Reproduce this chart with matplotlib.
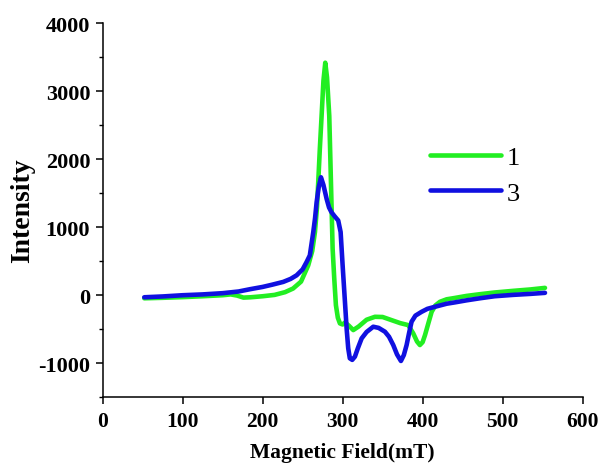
import matplotlib
matplotlib.use("Agg")
import matplotlib.pyplot as plt
from matplotlib.ticker import MultipleLocator

# EPR spectra, sample 1 and sample 3
field_1 = [52, 75, 100, 125, 150, 160, 168, 176, 185, 200, 215, 228, 238, 248, 257, 262, 265.4,
           268, 269.5, 271.5, 273.7, 276, 278.3, 280.5, 283.3, 285.4, 287.5, 289.5, 291.6,
           294, 296.6, 300, 303, 308, 313.3, 320, 330, 340.4, 350, 361.2, 372, 382, 388.3,
           393, 396.6, 400, 403, 407, 411.3, 416, 421.6, 430, 440.4, 455, 471.6, 490, 513,
           535, 553]
intensity_1 = [-45, -38, -28, -15, 0, 12, -5, -35, -30, -15, 5, 45, 98, 200, 439, 650, 928,
               1300, 1660, 2150, 2635, 3150, 3417, 3200, 2635, 1660, 684, 250, -146,
               -330, -414, -430, -400, -450, -512, -460, -360, -317, -320, -366, -410, -439,
               -561, -680, -732, -690, -586, -420, -244, -150, -97, -60, -40, -10, 15, 40, 64,
               85, 108]

field_3 = [52, 75, 100, 125, 150, 170, 184, 200, 212, 225.8, 235, 242.5, 250, 255, 259,
           263.3, 265.5, 267.5, 270, 272.9, 276, 280, 283, 286, 290, 294.5, 297.5, 300,
           302.9, 305, 307, 309, 312, 315.4, 319, 323.8, 330, 338.3, 345, 352.9, 358,
           363.3, 368, 372.9, 376.5, 380, 383, 386.2, 391, 398.7, 406, 415.4, 430, 440.4,
           455, 471.6, 490, 513, 535, 553]
intensity_3 = [-30, -18, 0, 12, 30, 55, 88, 122, 155, 196, 240, 293, 380, 489, 586, 928,
               1130, 1367, 1580, 1733, 1620, 1416, 1290, 1221, 1160, 1098, 928, 439,
               -97, -488, -780, -927, -950, -902, -780, -634, -540, -463, -480, -536, -610,
               -732, -870, -966, -880, -732, -560, -390, -300, -244, -200, -170, -125, -105,
               -75, -45, -15, 5, 20, 35]

series_labels = ["1", "3"]
series_colors = ["#22ee22", "#1010e0"]

plt.rcParams["font.family"] = ["Liberation Serif", "DejaVu Serif"]
plt.rcParams["axes.unicode_minus"] = False

fig = plt.figure(figsize=(5.98, 4.64), dpi=100)
ax = fig.add_axes([0.1717, 0.1416, 0.8025, 0.8066])

ax.plot(field_1, intensity_1, color=series_colors[0], lw=3.3, label=series_labels[0],
        solid_joinstyle="round", solid_capstyle="round")
ax.plot(field_3, intensity_3, color=series_colors[1], lw=3.3, label=series_labels[1],
        solid_joinstyle="round", solid_capstyle="round")

ax.set_xlim(0, 600)
ax.set_ylim(-1500, 4000)
ax.xaxis.set_major_locator(MultipleLocator(100))
ax.yaxis.set_major_locator(MultipleLocator(1000))
ax.yaxis.set_minor_locator(MultipleLocator(500))

for side in ["top", "right"]:
    ax.spines[side].set_visible(False)
for side in ["left", "bottom"]:
    ax.spines[side].set_linewidth(1.1)

ax.tick_params(which="major", direction="out", length=5, width=1.1, pad=4)
ax.tick_params(axis="x", which="major", labelsize=15.5, pad=5)
ax.tick_params(axis="y", which="major", labelsize=16)
ax.tick_params(which="minor", direction="out", length=3, width=1.0)
for lab in ax.get_xticklabels() + ax.get_yticklabels():
    lab.set_fontweight("bold")

ax.set_xlabel("Magnetic Field(mT)", fontsize=15.5, fontweight="bold", labelpad=8)
ax.set_ylabel("Intensity", fontsize=20, fontweight="bold", labelpad=2)

ax.legend(loc="upper left", bbox_to_anchor=(0.66, 0.70), frameon=False, fontsize=19,
          handlelength=2.7, handletextpad=0.2, labelspacing=0.45, borderaxespad=0)

fig.savefig("out.png", dpi=100)
